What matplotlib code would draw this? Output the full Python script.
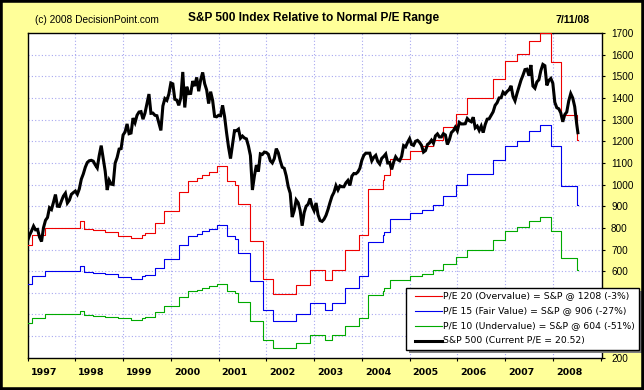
import numpy as np
import matplotlib
matplotlib.use("Agg")
import matplotlib.pyplot as plt
from matplotlib.patches import Rectangle
from matplotlib.lines import Line2D
from matplotlib import font_manager

# ---------------- data ----------------
# S&P 500, semi-monthly samples (1st and 15th of each month) from Jan 1997
sp_start_year = 1997
sp_per_year = 24
sp1997 = [741, 767, 786, 808, 791, 793, 757, 737, 801, 835, 848, 893, 885, 918, 954, 900, 899, 924, 947, 960, 915, 928, 955, 963]
sp1998 = [970, 955, 980, 1025, 1049, 1080, 1102, 1110, 1112, 1108, 1091, 1077, 1134, 1180, 1121, 1062, 975, 1020, 1002, 1000, 1099, 1125, 1164, 1166]
sp1999 = [1229, 1243, 1280, 1235, 1238, 1307, 1286, 1320, 1335, 1337, 1302, 1330, 1373, 1418, 1329, 1330, 1320, 1318, 1283, 1250, 1363, 1397, 1389, 1418]
sp2000 = [1469, 1465, 1394, 1390, 1366, 1400, 1520, 1356, 1452, 1420, 1421, 1478, 1455, 1495, 1431, 1484, 1518, 1466, 1437, 1374, 1429, 1389, 1315, 1313]
sp2001 = [1320, 1318, 1366, 1315, 1240, 1173, 1120, 1183, 1249, 1249, 1256, 1214, 1224, 1215, 1211, 1178, 1134, 975, 1040, 1090, 1060, 1142, 1139, 1150]
sp2002 = [1148, 1140, 1110, 1100, 1120, 1166, 1147, 1110, 1080, 1075, 1040, 990, 960, 850, 880, 929, 916, 880, 810, 870, 900, 909, 936, 900]
sp2003 = [880, 915, 860, 834, 830, 840, 858, 885, 917, 946, 964, 995, 975, 994, 990, 990, 1008, 1019, 996, 1039, 1051, 1050, 1058, 1075]
sp2004 = [1112, 1135, 1145, 1145, 1145, 1110, 1126, 1135, 1107, 1095, 1121, 1130, 1141, 1100, 1102, 1070, 1104, 1128, 1115, 1110, 1130, 1180, 1174, 1195]
sp2005 = [1212, 1185, 1181, 1200, 1204, 1195, 1181, 1150, 1157, 1185, 1192, 1205, 1191, 1225, 1234, 1220, 1220, 1235, 1229, 1185, 1207, 1240, 1249, 1265]
sp2006 = [1248, 1287, 1280, 1280, 1281, 1305, 1295, 1290, 1311, 1262, 1270, 1250, 1270, 1240, 1277, 1302, 1304, 1320, 1336, 1366, 1378, 1400, 1401, 1427]
sp2007 = [1418, 1430, 1438, 1456, 1407, 1387, 1421, 1452, 1482, 1505, 1531, 1533, 1503, 1552, 1455, 1445, 1474, 1484, 1527, 1555, 1549, 1458, 1481, 1490]
sp2008 = [1468, 1380, 1355, 1350, 1331, 1290, 1323, 1335, 1386, 1420, 1400, 1360, 1280]
sp_last_date = 2008.525   # 7/11/08
sp_last_value = 1239.5

# 12-month earnings (step changes): dates and values
eps_dates = [1997.00, 1997.10, 1997.36, 1998.10, 1998.19, 1998.37, 1998.62, 1998.90, 1999.17, 1999.39,
             1999.46, 1999.67, 1999.86, 2000.18, 2000.36, 2000.54, 2000.65, 2000.80, 2000.96, 2001.17,
             2001.34, 2001.41, 2001.66, 2001.93, 2002.14, 2002.63, 2002.91, 2003.23, 2003.38, 2003.65,
             2003.94, 2004.13, 2004.45, 2004.47, 2004.59, 2005.00, 2005.25, 2005.49, 2005.70, 2005.98,
             2006.21, 2006.75, 2007.00, 2007.25, 2007.50, 2007.73, 2007.97, 2008.18, 2008.50]
eps_values = [36.1, 38.4, 40.0, 41.5, 39.8, 39.5, 39.0, 38.2, 37.6, 38.4,
              38.8, 41.1, 43.8, 48.2, 50.9, 51.5, 52.3, 53.0, 54.2, 50.9,
              49.9, 45.6, 36.9, 28.2, 24.7, 26.9, 30.3, 28.0, 30.3, 34.8,
              38.4, 49.0, 51.0, 52.1, 56.0, 57.8, 58.8, 60.4, 63.3, 66.4,
              69.9, 74.3, 78.6, 80.2, 83.2, 84.9, 78.4, 66.1, 60.4]

pe_levels = [20, 15, 10]
pe_names = ["Overvalue", "Fair Value", "Undervalue"]
pe_colors = ["#ee0000", "#0000ee", "#00aa00"]

year_ticks = list(range(1997, 2010))
year_labels = [str(y) for y in range(1997, 2009)]
y_ticks = list(range(200, 1701, 100))
y_hidden = [300, 400, 500]   # labels covered by the legend box

# ---------------- fonts ----------------
names = {f.name for f in font_manager.fontManager.ttflist}
has_narrow = "Liberation Sans Narrow" in names
if has_narrow:
    narrow = ["Liberation Sans Narrow", "Liberation Sans", "DejaVu Sans"]
    title_size, copy_size = 10.7, 8.2
else:
    narrow = ["Liberation Sans", "DejaVu Sans"]
    title_size, copy_size = 8.6, 7.3

# ---------------- figure ----------------
W, H = 644, 390
fig = plt.figure(figsize=(W / 100, H / 100), dpi=100)
fig.patch.set_facecolor("#ffff99")

def fx(px):
    return px / W

def fy(py):
    return 1 - py / H

L, R, T, B = 27.6, 602, 33, 357.8
ax = fig.add_axes([fx(L), fy(B), fx(R - L), (B - T) / H])
ax.set_facecolor("white")

sp500 = sp1997 + sp1998 + sp1999 + sp2000 + sp2001 + sp2002 + sp2003 + sp2004 + sp2005 + sp2006 + sp2007 + sp2008
sp_dates = list(sp_start_year + np.arange(len(sp500)) / sp_per_year) + [sp_last_date]
sp_vals = sp500 + [sp_last_value]

step_x = eps_dates + [sp_last_date]
step_e = eps_values + [eps_values[-1]]
for pe, col in zip(pe_levels, pe_colors):
    ax.step(step_x, [pe * e for e in step_e], where="post", color=col, lw=0.8, zorder=3)
ax.plot(sp_dates, sp_vals, color="black", lw=2.2, zorder=4, solid_joinstyle="miter")

ax.set_xlim(1997, 2009.03)
ax.set_ylim(200, 1700)

grid_kw = dict(color="#a8a8f0", lw=0.8, ls=(0, (1, 2)), zorder=1)
for yv in y_ticks[1:-1]:
    ax.axhline(yv, **grid_kw)
for xv in year_ticks[1:-1]:
    ax.axvline(xv, **grid_kw)

ax.yaxis.tick_right()
ax.set_yticks(y_ticks)
ax.set_yticklabels(["" if v in y_hidden else str(v) for v in y_ticks], fontsize=7.2,
                   family=["Liberation Sans", "DejaVu Sans"])
ax.tick_params(axis="y", direction="out", length=2.5, width=0.8, pad=4, right=True, left=False)

ax.set_xticks(year_ticks)
ax.set_xticklabels([])
ax.tick_params(axis="x", which="major", direction="out", length=2.5, width=0.8)
ax.set_xticks([y + 0.34 for y in range(1997, 2009)], minor=True)
ax.set_xticklabels(year_labels, minor=True, fontsize=6.8, fontweight="bold", family="DejaVu Sans")
ax.tick_params(axis="x", which="minor", length=0, pad=7.5)

for s in ax.spines.values():
    s.set_linewidth(1.0)
    s.set_color("black")

# ---------------- texts ----------------
fig.text(fx(35), fy(20), "(c) 2008 DecisionPoint.com", fontsize=copy_size, va="center", ha="left",
         family=narrow)
fig.text(fx(314), fy(17.5), "S&P 500 Index Relative to Normal P/E Range", fontsize=title_size,
         fontweight="bold", va="center", ha="center", family=narrow)
fig.text(fx(590), fy(20), "7/11/08", fontsize=7.5, fontweight="bold", va="center", ha="right",
         family=["Liberation Sans", "DejaVu Sans"])

# ---------------- legend ----------------
cur_eps = eps_values[-1]
labels = []
for pe, name in zip(pe_levels, pe_names):
    lvl = pe * cur_eps
    pct = (lvl / sp_last_value - 1) * 100
    labels.append(f"P/E {pe} ({name}) = S&P @ {lvl:.0f} ({pct:.0f}%)")
labels.append(f"S&P 500 (Current P/E = {sp_last_value / cur_eps:.2f})")

bx0, bx1, by0, by1 = 406, 639, 288, 350
fig.add_artist(Rectangle((fx(bx0 + 3), fy(by1 + 3)), fx(bx1 - bx0), (by1 - by0) / H,
                         facecolor="#808080", edgecolor="none", transform=fig.transFigure, zorder=5))
fig.add_artist(Rectangle((fx(bx0), fy(by1)), fx(bx1 - bx0), (by1 - by0) / H,
                         facecolor="white", edgecolor="black", lw=1.0, transform=fig.transFigure, zorder=6))
row_y = [296, 311, 326, 341]
for yy, col, lab, lw in zip(row_y, pe_colors + ["black"], labels, [0.8, 0.8, 0.8, 2.2]):
    fig.add_artist(Line2D([fx(415), fx(442)], [fy(yy), fy(yy)], color=col, lw=lw,
                          transform=fig.transFigure, zorder=7))
    fig.text(fx(443), fy(yy), lab, fontsize=6.7, va="center", ha="left", family="DejaVu Sans", zorder=7)

# outer border
fig.add_artist(Rectangle((0, 0), 1, 1, facecolor="none", edgecolor="black", lw=4,
                         transform=fig.transFigure, zorder=10))

fig.savefig("out.png", dpi=100, facecolor=fig.get_facecolor())
